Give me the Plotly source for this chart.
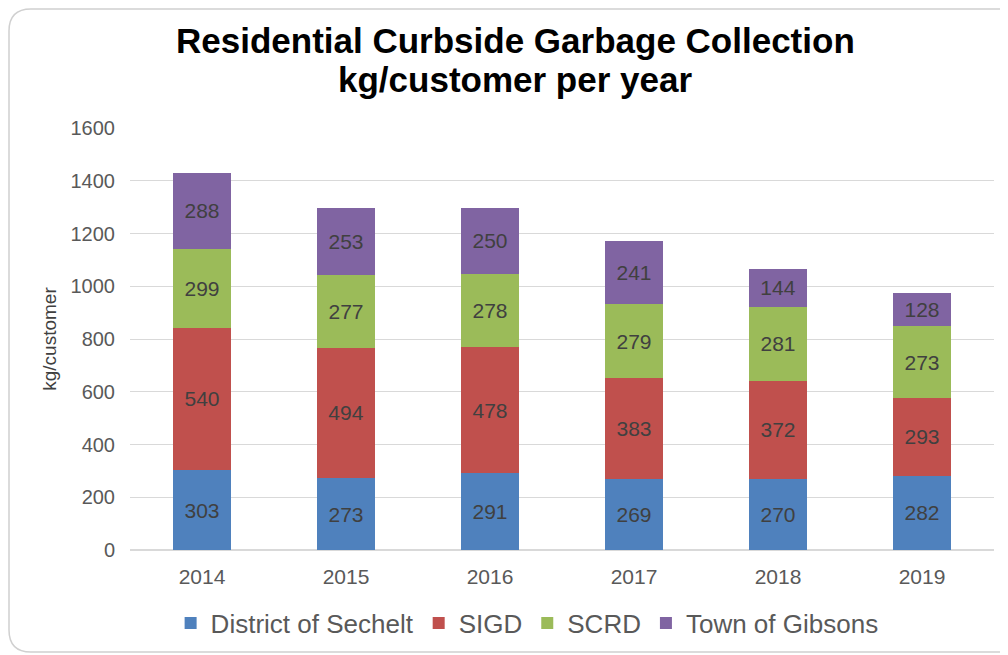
import plotly.graph_objects as go

years = ["2014", "2015", "2016", "2017", "2018", "2019"]
sechelt = [303, 273, 291, 269, 270, 282]
sigd = [540, 494, 478, 383, 372, 293]
scrd = [299, 277, 278, 279, 281, 273]
gibsons = [288, 253, 250, 241, 144, 128]

series = [
    ("District of Sechelt", sechelt, "#4F81BD"),
    ("SIGD", sigd, "#C0504D"),
    ("SCRD", scrd, "#9BBB59"),
    ("Town of Gibsons", gibsons, "#8064A2"),
]

W, H = 1008, 655
L, R, T, B = 122, 22, 120, 113
FONT = "Liberation Sans, Arial"

fig = go.Figure()
for name, vals, color in series:
    fig.add_trace(go.Bar(
        x=years, y=vals, name=name,
        marker=dict(color=color, line=dict(width=0)),
        text=[str(v) for v in vals],
        textposition="inside", insidetextanchor="middle", textangle=0,
        textfont=dict(family=FONT, size=21, color="#404040"),
    ))

# light rounded frame around the whole chart
pw, ph = W - L - R, H - T - B
def px(x): return (x - L) / pw
def py(y): return (H - B - y) / ph
x0, x1, y0, y1, r = 1, 1030, 1, 644, 22
path = (f"M {px(x0 + r)},{py(y0)} L {px(x1 - r)},{py(y0)} "
        f"Q {px(x1)},{py(y0)} {px(x1)},{py(y0 + r)} L {px(x1)},{py(y1 - r)} "
        f"Q {px(x1)},{py(y1)} {px(x1 - r)},{py(y1)} L {px(x0 + r)},{py(y1)} "
        f"Q {px(x0)},{py(y1)} {px(x0)},{py(y1 - r)} L {px(x0)},{py(y0 + r)} "
        f"Q {px(x0)},{py(y0)} {px(x0 + r)},{py(y0)} Z")

fig.update_layout(
    width=W, height=H,
    barmode="stack", bargap=0.6,
    paper_bgcolor="white", plot_bgcolor="white",
    margin=dict(l=L, r=R, t=T, b=B),
    font=dict(family=FONT, color="#595959"),
    xaxis=dict(showgrid=False, showline=False, ticks="", automargin=False,
               ticklabelstandoff=12,
               tickfont=dict(size=21, color="#595959")),
    yaxis=dict(range=[0, 1600], dtick=200, showgrid=True, gridcolor="#D9D9D9",
               gridwidth=1, zeroline=True, zerolinecolor="#D9D9D9", automargin=False,
               tickfont=dict(size=20, color="#595959"), ticklabelstandoff=14,
               title=dict(text="kg/customer", font=dict(size=19, color="#404040"), standoff=8)),
    legend=dict(orientation="h", x=0.515, xanchor="center", xref="container",
                y=0.061, yanchor="middle", yref="container",
                font=dict(size=26, color="#595959"), traceorder="normal",
                itemwidth=30),
    shapes=[dict(type="path", path=path, xref="paper", yref="paper",
                 line=dict(color="#D0D0D0", width=1.5), layer="below")],
    annotations=[
        dict(text="<b>Residential Curbside Garbage Collection</b>", xref="paper", yref="paper",
             x=px(507), y=py(32), xanchor="center", yanchor="middle", showarrow=False,
             font=dict(family=FONT, size=35, color="black")),
        dict(text="<b>kg/customer per year</b>", xref="paper", yref="paper",
             x=px(507), y=py(71), xanchor="center", yanchor="middle", showarrow=False,
             font=dict(family=FONT, size=35, color="black")),
    ],
)

fig.write_html("out.html")
